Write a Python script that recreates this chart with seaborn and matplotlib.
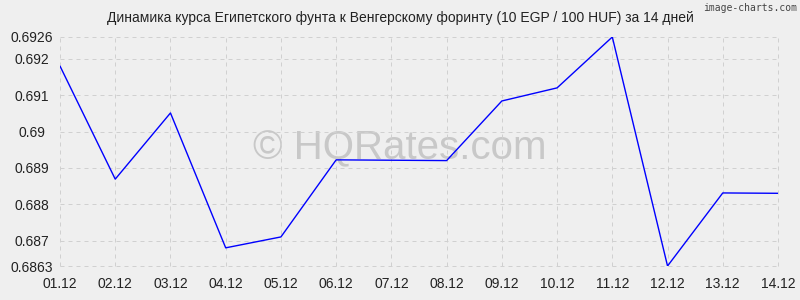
import matplotlib
matplotlib.use("Agg")
import matplotlib.pyplot as plt
import seaborn as sns
import pandas as pd

dates = ["01.12", "02.12", "03.12", "04.12", "05.12", "06.12", "07.12",
         "08.12", "09.12", "10.12", "11.12", "12.12", "13.12", "14.12"]
rates = [0.6918, 0.68869, 0.69051, 0.68680, 0.68710, 0.68922, 0.68921,
         0.68920, 0.69084, 0.69120, 0.6926, 0.6863, 0.68831, 0.68830]
yticks = [0.6863, 0.687, 0.688, 0.689, 0.69, 0.691, 0.692, 0.6926]
ytick_labels = ["0.6863", "0.687", "0.688", "0.689", "0.69", "0.691", "0.692", "0.6926"]
title = "Динамика курса Египетского фунта к Венгерскому форинту (10 EGP / 100 HUF) за 14 дней"

sns.set_theme(style="white")
plt.rcParams['font.family'] = ['Liberation Sans', 'DejaVu Sans']

bg = "#efefef"
fig = plt.figure(figsize=(8, 3), dpi=100, facecolor=bg)
ax = fig.add_axes([0.075, 0.1133, 0.8975, 0.7634], facecolor=bg)

df = pd.DataFrame({"date": dates, "rate": rates, "pos": range(len(dates))})

ax.text(0.5, 1 - 148 / 300, "© HQRates.com", transform=fig.transFigure,
        ha="center", va="center", fontsize=29, color="#c8c8c8", zorder=0, clip_on=False)

sns.lineplot(data=df, x="pos", y="rate", ax=ax, color="#0000ff", linewidth=1.0,
             sort=False, zorder=3)

ax.set_xlim(0, len(dates) - 1)
ax.set_ylim(0.6863, 0.6926)
ax.set_xticks(range(len(dates)))
ax.set_xticklabels(dates)
ax.set_yticks(yticks)
ax.set_yticklabels(ytick_labels)
ax.set_xlabel("")
ax.set_ylabel("")

for s in ax.spines.values():
    s.set_visible(False)

ax.grid(True, color="#d0d0d0", linestyle=(0, (4, 4)), linewidth=0.72)
for gl in ax.get_xgridlines() + ax.get_ygridlines():
    gl.set_clip_on(False)

ax.tick_params(axis="both", length=0, labelsize=10, colors="#222222")
ax.tick_params(axis="x", pad=8)
ax.tick_params(axis="y", pad=20)
for lbl in ax.get_yticklabels():
    lbl.set_ha("center")

fig.text(0.5, 1 - 18 / 300, title, ha="center", va="center", fontsize=10, color="#222222")
fig.text(0.997, 1 - 8 / 300, "image-charts.com", ha="right", va="center",
         fontsize=7, color="#444444", family="DejaVu Sans Mono")

fig.savefig("out.png", dpi=100, facecolor=bg)
